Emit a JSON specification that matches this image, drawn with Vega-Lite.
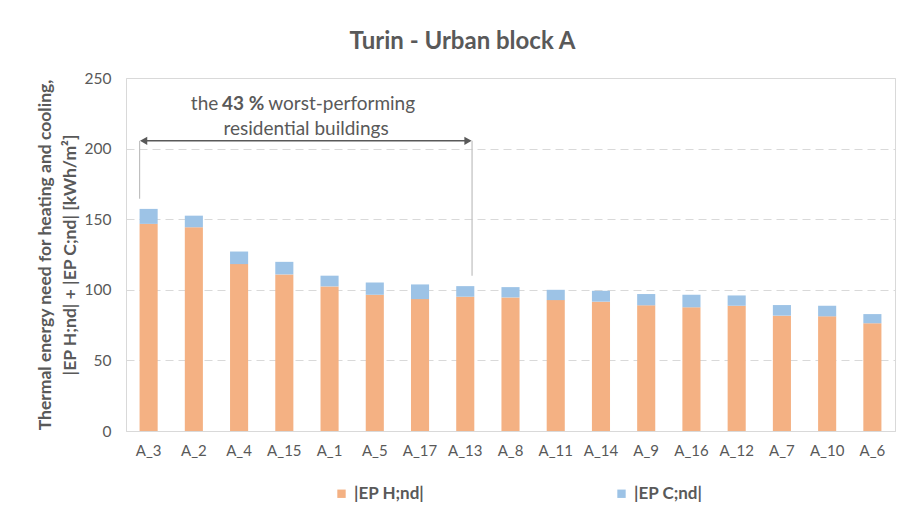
{
  "$schema": "https://vega.github.io/schema/vega-lite/v6.json",
  "width": 769,
  "height": 353,
  "autosize": {"type": "none"},
  "padding": {"left": 126, "top": 78, "right": 6, "bottom": 85},
  "background": "white",
  "config": {
    "font": "Lato",
    "view": {"stroke": "#d9d9d9", "strokeWidth": 1},
    "axis": {"labelColor": "#595959", "titleColor": "#595959"}
  },
  "title": {
    "text": "Turin - Urban block A",
    "fontSize": 24,
    "fontWeight": "bold",
    "color": "#595959",
    "anchor": "middle",
    "dx": -48,
    "offset": 17
  },
  "layer": [
    {
      "data": {
        "values": [
          {"building": "A_3", "component": "|EP H;nd|", "value": 146.7},
          {"building": "A_3", "component": "|EP C;nd|", "value": 10.6},
          {"building": "A_2", "component": "|EP H;nd|", "value": 144.3},
          {"building": "A_2", "component": "|EP C;nd|", "value": 8.2},
          {"building": "A_4", "component": "|EP H;nd|", "value": 118.2},
          {"building": "A_4", "component": "|EP C;nd|", "value": 8.9},
          {"building": "A_15", "component": "|EP H;nd|", "value": 110.9},
          {"building": "A_15", "component": "|EP C;nd|", "value": 8.9},
          {"building": "A_1", "component": "|EP H;nd|", "value": 102.4},
          {"building": "A_1", "component": "|EP C;nd|", "value": 7.6},
          {"building": "A_5", "component": "|EP H;nd|", "value": 96.5},
          {"building": "A_5", "component": "|EP C;nd|", "value": 8.7},
          {"building": "A_17", "component": "|EP H;nd|", "value": 93.4},
          {"building": "A_17", "component": "|EP C;nd|", "value": 10.4},
          {"building": "A_13", "component": "|EP H;nd|", "value": 95.1},
          {"building": "A_13", "component": "|EP C;nd|", "value": 7.5},
          {"building": "A_8", "component": "|EP H;nd|", "value": 94.6},
          {"building": "A_8", "component": "|EP C;nd|", "value": 7.3},
          {"building": "A_11", "component": "|EP H;nd|", "value": 92.7},
          {"building": "A_11", "component": "|EP C;nd|", "value": 7.3},
          {"building": "A_14", "component": "|EP H;nd|", "value": 91.6},
          {"building": "A_14", "component": "|EP C;nd|", "value": 7.7},
          {"building": "A_9", "component": "|EP H;nd|", "value": 89.0},
          {"building": "A_9", "component": "|EP C;nd|", "value": 8.0},
          {"building": "A_16", "component": "|EP H;nd|", "value": 87.6},
          {"building": "A_16", "component": "|EP C;nd|", "value": 8.9},
          {"building": "A_12", "component": "|EP H;nd|", "value": 88.7},
          {"building": "A_12", "component": "|EP C;nd|", "value": 7.3},
          {"building": "A_7", "component": "|EP H;nd|", "value": 81.7},
          {"building": "A_7", "component": "|EP C;nd|", "value": 7.5},
          {"building": "A_10", "component": "|EP H;nd|", "value": 81.2},
          {"building": "A_10", "component": "|EP C;nd|", "value": 7.5},
          {"building": "A_6", "component": "|EP H;nd|", "value": 76.3},
          {"building": "A_6", "component": "|EP C;nd|", "value": 6.5}
        ]
      },
      "mark": {"type": "bar"},
      "encoding": {
        "x": {
          "field": "building",
          "type": "nominal",
          "sort": null,
          "scale": {"paddingInner": 0.6, "paddingOuter": 0.3},
          "axis": {
            "title": null,
            "labelAngle": 0,
            "ticks": false,
            "domainColor": "#d9d9d9",
            "labelFontSize": 15,
            "labelPadding": 12
          }
        },
        "y": {
          "field": "value",
          "type": "quantitative",
          "stack": "zero",
          "scale": {"domain": [0, 250], "nice": false},
          "axis": {
            "values": [0, 50, 100, 150, 200, 250],
            "domain": false,
            "ticks": false,
            "grid": true,
            "gridColor": "#d9d9d9",
            "gridDash": [8, 5],
            "labelFontSize": 15.5,
            "labelPadding": 15,
            "title": ["Thermal energy need for heating and cooling,", "|EP H;nd| + |EP C;nd| [kWh/m²]"],
            "titleFontSize": 17.5,
            "titleFontWeight": "bold",
            "titlePadding": 5,
            "titleLineHeight": 25
          }
        },
        "color": {
          "field": "component",
          "type": "nominal",
          "scale": {"domain": ["|EP H;nd|", "|EP C;nd|"], "range": ["#F4B183", "#9DC3E6"]},
          "legend": {
            "title": null,
            "orient": "none",
            "direction": "horizontal",
            "legendX": 207,
            "legendY": 407,
            "symbolType": "square",
            "symbolSize": 70,
            "symbolStrokeWidth": 0,
            "labelFontSize": 17,
            "labelFontWeight": "bold",
            "labelColor": "#595959",
            "columnPadding": 188
          }
        },
        "order": {"field": "component", "sort": "descending"}
      }
    },
    {
      "data": {"values": [{}]},
      "mark": {"type": "rule", "color": "#bfbfbf", "strokeWidth": 1.2},
      "encoding": {
        "x": {"datum": 0.3, "type": "quantitative", "scale": {"domain": [0, 17]}, "axis": null},
        "y": {"datum": 164.5, "type": "quantitative"},
        "y2": {"datum": 205.5}
      }
    },
    {
      "data": {"values": [{}]},
      "mark": {"type": "rule", "color": "#bfbfbf", "strokeWidth": 1.2},
      "encoding": {
        "x": {"datum": 7.65, "type": "quantitative", "scale": {"domain": [0, 17]}, "axis": null},
        "y": {"datum": 110, "type": "quantitative"},
        "y2": {"datum": 205.5}
      }
    },
    {
      "data": {"values": [{}]},
      "mark": {"type": "rule", "color": "#595959", "strokeWidth": 1.5},
      "encoding": {
        "x": {"datum": 0.35, "type": "quantitative", "scale": {"domain": [0, 17]}, "axis": null},
        "x2": {"datum": 7.6},
        "y": {"datum": 205.5, "type": "quantitative"}
      }
    },
    {
      "data": {"values": [{}]},
      "mark": {"type": "point", "shape": "triangle-left", "filled": true, "color": "#595959", "size": 70, "opacity": 1},
      "encoding": {
        "x": {"datum": 0.39, "type": "quantitative", "scale": {"domain": [0, 17]}, "axis": null},
        "y": {"datum": 205.5, "type": "quantitative"}
      }
    },
    {
      "data": {"values": [{}]},
      "mark": {"type": "point", "shape": "triangle-right", "filled": true, "color": "#595959", "size": 70, "opacity": 1},
      "encoding": {
        "x": {"datum": 7.56, "type": "quantitative", "scale": {"domain": [0, 17]}, "axis": null},
        "y": {"datum": 205.5, "type": "quantitative"}
      }
    },
    {
      "data": {"values": [{}]},
      "mark": {"type": "text", "text": "the", "align": "right", "baseline": "middle", "fontSize": 19, "color": "#595959"},
      "encoding": {
        "x": {"datum": 2.04, "type": "quantitative", "scale": {"domain": [0, 17]}, "axis": null},
        "y": {"datum": 231.6, "type": "quantitative"}
      }
    },
    {
      "data": {"values": [{}]},
      "mark": {"type": "text", "text": "43 %", "align": "center", "baseline": "middle", "fontSize": 19, "fontWeight": "bold", "color": "#595959"},
      "encoding": {
        "x": {"datum": 2.59, "type": "quantitative", "scale": {"domain": [0, 17]}, "axis": null},
        "y": {"datum": 231.6, "type": "quantitative"}
      }
    },
    {
      "data": {"values": [{}]},
      "mark": {"type": "text", "text": "worst-performing", "align": "left", "baseline": "middle", "fontSize": 19, "color": "#595959"},
      "encoding": {
        "x": {"datum": 3.145, "type": "quantitative", "scale": {"domain": [0, 17]}, "axis": null},
        "y": {"datum": 231.6, "type": "quantitative"}
      }
    },
    {
      "data": {"values": [{}]},
      "mark": {"type": "text", "text": "residential buildings", "align": "center", "baseline": "middle", "fontSize": 19, "color": "#595959"},
      "encoding": {
        "x": {"datum": 3.98, "type": "quantitative", "scale": {"domain": [0, 17]}, "axis": null},
        "y": {"datum": 214, "type": "quantitative"}
      }
    }
  ],
  "resolve": {"scale": {"x": "independent"}, "axis": {"x": "independent"}}
}
